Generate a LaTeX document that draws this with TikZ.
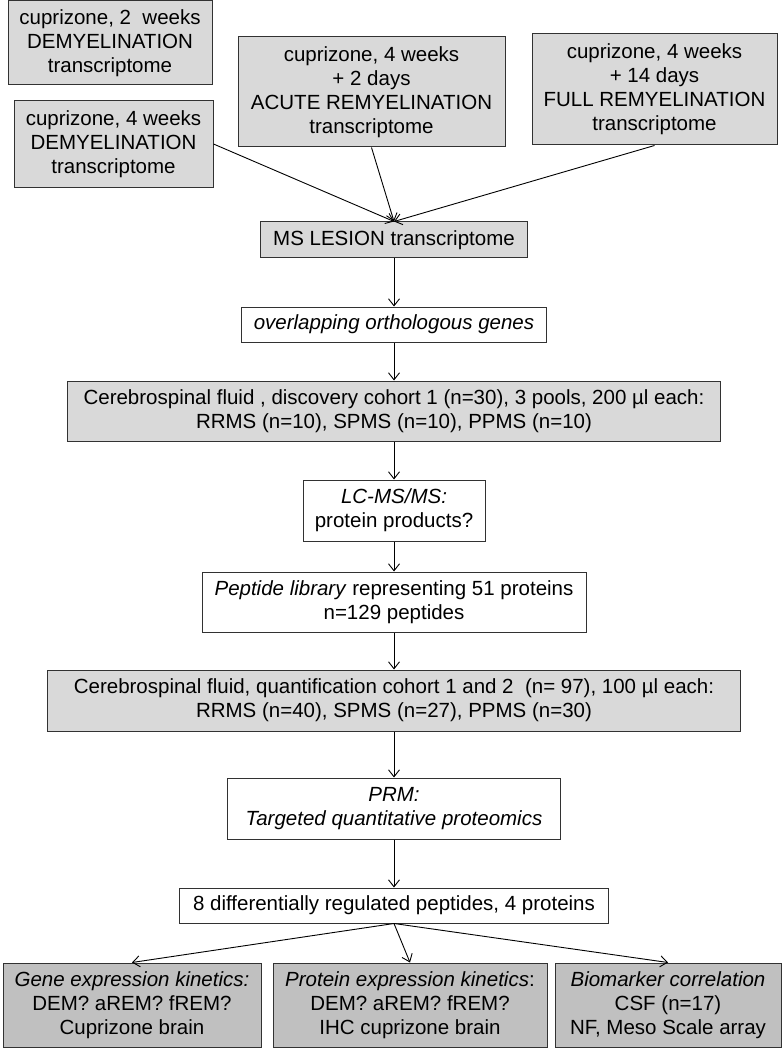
\documentclass[tikz,border=0pt]{standalone}
\usepackage{fontspec}
\setmainfont{Liberation Sans}
\usepackage{tikz}
\usetikzlibrary{arrows.meta}
\usepackage{color}
\definecolor{lightbox}{RGB}{217,217,217}
\definecolor{darkbox}{RGB}{192,192,192}
\definecolor{edgegray}{RGB}{50,50,50}

\begin{document}
\begin{tikzpicture}[x=1pt,y=-1pt,->,>={Straight Barb[length=7pt,width=11pt]},line width=0.9pt,
                    box/.style={draw=edgegray,line width=1pt,align=center,inner sep=0pt,
                                font=\fontsize{20.5}{24}\selectfont},
                    greybox/.style={box,fill=lightbox},
                    whitebox/.style={box,fill=white},
                    resultbox/.style={box,fill=darkbox,minimum height=84pt}]
                \useasboundingbox (0,0) rectangle (781,1048);
                \node[greybox, minimum width=204pt, minimum height=84pt] (dem2) at (110,43) {cuprizone, 2\ \ weeks\\DEMYELINATION\\transcriptome};
                \node[greybox, minimum width=199pt, minimum height=87pt] (dem4) at (113.5,144) {cuprizone, 4 weeks\\DEMYELINATION\\transcriptome};
                \node[greybox, minimum width=267pt, minimum height=110pt] (arem) at (371.5,92) {cuprizone, 4 weeks\\+ 2 days\\ACUTE REMYELINATION\\transcriptome};
                \node[greybox, minimum width=245pt, minimum height=111pt] (frem) at (654.5,89.5) {cuprizone, 4 weeks\\+ 14 days\\FULL REMYELINATION\\transcriptome};
                \node[greybox, minimum width=267pt, minimum height=36pt] (ms) at (394,240) {MS LESION transcriptome};
                \node[whitebox, minimum width=305pt, minimum height=35pt] (ortho) [below of = ms, node distance=84.5pt] {\textit{overlapping orthologous genes}};
                \node[greybox, minimum width=653pt, minimum height=60pt] (csfone) [below of = ortho, node distance=86.5pt] {Cerebrospinal fluid , discovery cohort 1 (n=30), 3 pools, 200 µl each:\\RRMS (n=10), SPMS (n=10), PPMS (n=10)};
                \node[whitebox, minimum width=182pt, minimum height=61pt] (lcms) [below of = csfone, node distance=99.5pt] {\textit{LC-MS/MS:}\\protein products?};
                \node[whitebox, minimum width=384pt, minimum height=60pt] (library) [below of = lcms, node distance=91.5pt] {\textit{Peptide library} representing 51 proteins\\n=129 peptides};
                \node[greybox, minimum width=693pt, minimum height=61pt] (csftwo) [below of = library, node distance=98.5pt] {Cerebrospinal fluid, quantification cohort 1 and 2\ \ (n= 97), 100 µl each:\\RRMS (n=40), SPMS (n=27), PPMS (n=30)};
                \node[whitebox, minimum width=333pt, minimum height=61pt] (prm) [below of = csftwo, node distance=108pt] {\textit{PRM:}\\\textit{Targeted quantitative proteomics}};
                \node[whitebox, minimum width=429pt, minimum height=35pt] (peptides) [below of = prm, node distance=97pt] {8 differentially regulated peptides, 4 proteins};
                \node[resultbox, minimum width=274pt] (protein) [below of = peptides, node distance=99.5pt, xshift=16pt] {\textit{Protein expression kinetics}:\\DEM? aREM? fREM?\\IHC cuprizone brain};
                \node[resultbox, minimum width=258pt] (gene) [left of = protein, node distance=278pt] {\textit{Gene expression kinetics:}\\DEM? aREM? fREM?\\Cuprizone brain};
                \node[resultbox, minimum width=226pt] (marker) [right of = protein, node distance=258pt] {\textit{Biomarker correlation}\\CSF (n=17)\\NF, Meso Scale array};

                \path
                (dem4.east) edge (ms.north)
                (arem.south) edge (ms.north)
                (frem.south) edge (ms.north)
                (ms) edge (ortho)
                (ortho) edge (csfone)
                (csfone) edge (lcms)
                (lcms) edge (library)
                (library) edge (csftwo)
                (csftwo) edge (prm)
                (prm) edge (peptides)
                (peptides.south) edge (gene.north)
                    edge (protein.north)
                    edge (marker.north)
                ;
            \end{tikzpicture}
\end{document}
